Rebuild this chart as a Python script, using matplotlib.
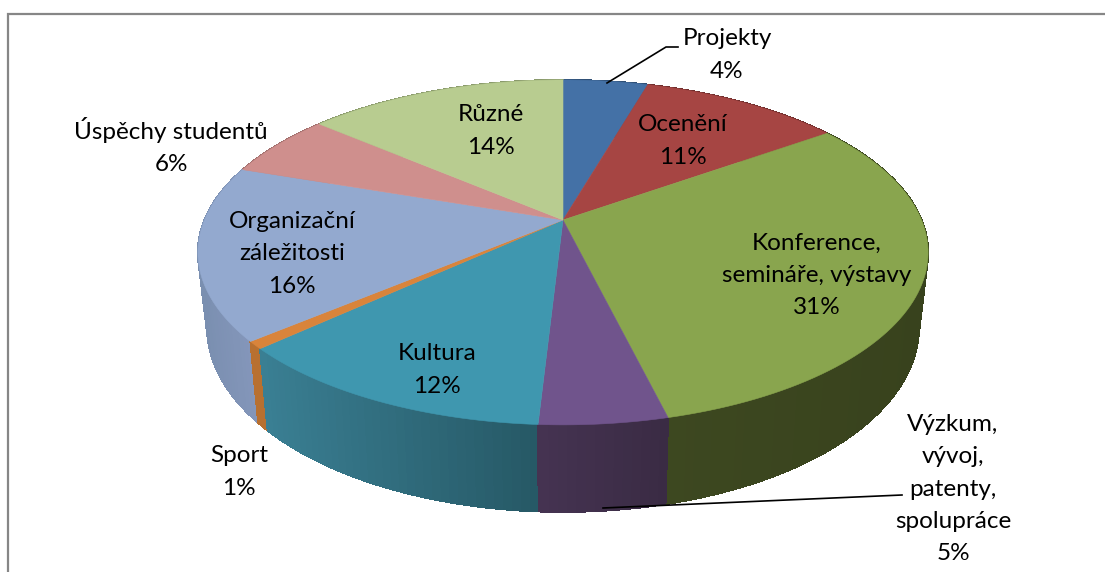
import numpy as np
import matplotlib
matplotlib.use("Agg")
import matplotlib.pyplot as plt
from matplotlib.patches import Polygon
from matplotlib.colors import to_rgb

categories = ["Projekty", "Ocenění", "Konference,\nsemináře, výstavy",
              "Výzkum,\nvývoj,\npatenty,\nspolupráce", "Kultura", "Sport",
              "Organizační\nzáležitosti", "Úspěchy studentů", "Různé"]
# shares
values = [4.5, 10.7, 30.95, 4.75, 12.3, 0.7, 16.3, 6.0, 13.8]
percent_labels = ["4%", "11%", "31%", "5%", "12%", "1%", "16%", "6%", "14%"]
top_colors = ["#4471a6", "#a64543", "#89a54e", "#70548c", "#3f97af",
              "#d9843b", "#93a9cf", "#cf8f8d", "#b8cc90"]
side_left = ["#2f4f75", "#6e2e2d", "#3d4820", "#453352", "#3a7f93",
             "#b87030", "#7a8fb0", "#a06e6c", "#8a9a6c"]
side_right = ["#2f4f75", "#6e2e2d", "#38421d", "#3a2b44", "#265865",
              "#b87030", "#8496ba", "#a06e6c", "#8a9a6c"]
label_pos = [(727, 55), (683, 141), (817, 275), (953, 489), (437, 370),
             (239, 472), (292, 254), (171, 146), (491, 131)]

W, H = 1105, 572
fig = plt.figure(figsize=(W / 100, H / 100), dpi=100)
ax = fig.add_axes([0, 0, 1, 1])
ax.set_xlim(0, W)
ax.set_ylim(H, 0)
ax.axis("off")

CX, CY = 563, 220
A, PERSP, TILT = 358.6, 0.188, 125


def rim(theta_pct, lower=False):
    t = np.asarray(theta_pct) * 2 * np.pi / 100
    u, v = np.sin(t), np.cos(t)
    d = 1 + PERSP * v
    x = A * u / d
    y = (-TILT * v + CY) / d
    if lower:
        return CX + 0.975 * x, y + 71 - 16 * v
    return CX + x, y


edges = np.concatenate([[0], np.cumsum(values)]) * 100 / np.sum(values)
slices = list(zip(edges[:-1], edges[1:], top_colors, side_left, side_right))

# side wall, back to front, with a left-to-right shade on each slice
order = sorted(range(len(values)),
               key=lambda i: -np.cos((edges[i] + edges[i + 1]) * np.pi / 100))
for i in order:
    s, e, _, cl, cr = slices[i]
    n = max(4, int((e - s) * 3))
    ts = np.linspace(s, e, n + 1)
    xs = rim(ts)[0]
    for j in range(n):
        a, b = ts[j], ts[j + 1]
        tt = np.linspace(a, b, 4)
        xu, yu = rim(tt)
        xl, yl = rim(tt, True)
        pts = np.r_[np.c_[xu, yu], np.c_[xl, yl][::-1]]
        xm = rim((a + b) / 2)[0]
        f = (xm - xs.min()) / max(xs.max() - xs.min(), 1)
        col = (1 - f) * np.array(to_rgb(cl)) + f * np.array(to_rgb(cr))
        ax.add_patch(Polygon(pts, closed=True, fc=col, ec=col, lw=0.7,
                             antialiased=False, zorder=2))

# top faces
for s, e, c, _, _ in slices:
    tt = np.linspace(s, e, 80)
    x, y = rim(tt)
    pts = np.r_[[[CX, CY]], np.c_[x, y]]
    ax.add_patch(Polygon(pts, closed=True, fc=c, ec=c, lw=0.4, zorder=3))

# frame
ax.plot([8, 8, W], [H, 14, 14], color="#868686", lw=1.6, zorder=1,
        solid_joinstyle="miter")

# leader lines
ax.plot([607, 666, 678], [83, 47, 47], color="black", lw=1.2, zorder=4)
ax.plot([603, 902], [508, 495], color="black", lw=1.2, zorder=4)

for name, pct, (x, y) in zip(categories, percent_labels, label_pos):
    ax.text(x, y, f"{name}\n{pct}", ha="center", va="center", ma="center",
            family="Lato", fontsize=17.5, color="black", linespacing=1.65,
            zorder=5)

fig.savefig("out.png", dpi=100, facecolor="white")
